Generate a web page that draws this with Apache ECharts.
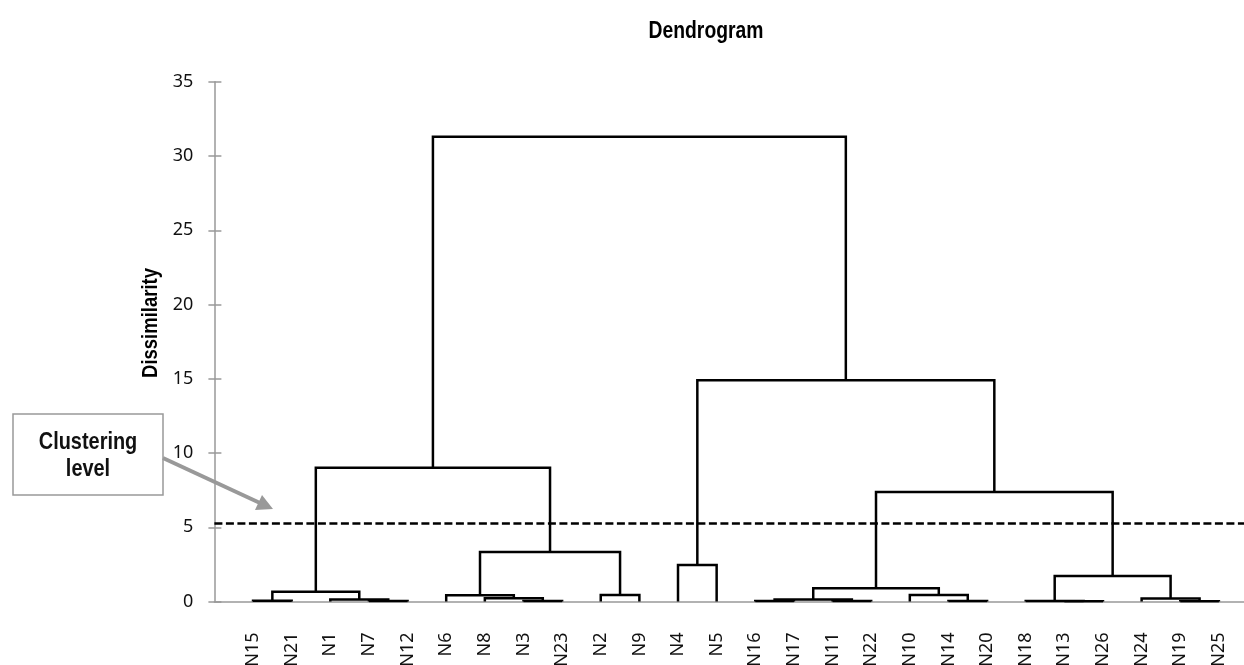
<!DOCTYPE html>
<html>
<head>
<meta charset="utf-8">
<script src="https://cdn.jsdelivr.net/npm/echarts@6/dist/echarts.min.js"></script>
<style>html,body{margin:0;padding:0;background:#fff;}#chart{width:1244px;height:665px;}</style>
</head>
<body>
<div id="chart"></div>
<script>
// Leaves in dendrogram order
var leaves = ['N15','N21','N1','N7','N12','N6','N8','N3','N23','N2','N9','N4','N5','N16','N17','N11','N22','N10','N14','N20','N18','N13','N26','N24','N19','N25'];
// Merges (ids 0..25 = leaves, 26+ = clusters in creation order)
var mergeLeft   = [21, 24, 20,  3,  7, 13, 15, 18,  0,  2, 31, 23,  6,  5,  9, 17, 34, 36, 28, 11, 39, 43, 42, 45, 48];
var mergeRight  = [22, 25, 26,  4,  8, 14, 16, 19,  1, 29, 32, 27, 30, 38, 10, 33, 35, 41, 37, 12, 40, 44, 46, 47, 49];
var mergeHeight = [0.02,0.02,0.04,0.03,0.04,0.03,0.03,0.03,0.05,0.14,0.13,0.20,0.22,0.42,0.44,0.44,0.66,0.89,1.72,2.46,3.33,7.37,9.0,14.9,31.3];
var yTicks = {min: 0, max: 35, interval: 5};
var clusteringLevel = 5.3;

// Build dendrogram link polylines from the merges
var nodeX = [], nodeY = [];
for (var i = 0; i < leaves.length; i++) { nodeX.push(i + 1); nodeY.push(0); }
var links = [];
for (var k = 0; k < mergeLeft.length; k++) {
  var a = mergeLeft[k], b = mergeRight[k], h = mergeHeight[k];
  links.push({coords: [[nodeX[a], nodeY[a]], [nodeX[a], h], [nodeX[b], h], [nodeX[b], nodeY[b]]]});
  nodeX.push((nodeX[a] + nodeX[b]) / 2);
  nodeY.push(h);
}

var chart = echarts.init(document.getElementById('chart'), null, {renderer: 'canvas'});
var labelFont = 'Noto Sans';
var option = {
  animation: false,
  grid: {left: 214.4, right: 0, top: 81.75, bottom: 63.5, containLabel: false, outerBoundsMode: 'none'},
  xAxis: {
    type: 'value', min: 0, max: 26.65, interval: 1,
    axisLine: {show: true, lineStyle: {color: '#999', width: 1.5}},
    axisTick: {show: false}, splitLine: {show: false},
    axisLabel: {
      rotate: 90, margin: 31, fontFamily: labelFont, fontSize: 18, color: '#111',
      showMinLabel: false, showMaxLabel: false, hideOverlap: false,
      formatter: function (v) { var i = Math.round(v); return (Math.abs(v - i) < 1e-6 && i >= 1 && i <= leaves.length) ? leaves[i - 1] : ''; }
    }
  },
  yAxis: [{
    type: 'value', min: yTicks.min, max: yTicks.max, interval: yTicks.interval,
    axisLine: {show: true, lineStyle: {color: '#999', width: 1.5}},
    axisTick: {show: true, length: 6, lineStyle: {color: '#999', width: 1.5}},
    splitLine: {show: false},
    axisLabel: {margin: 21, fontFamily: labelFont, fontSize: 18, color: '#111'}
  }, {
    type: 'value', min: yTicks.min, max: yTicks.max, interval: yTicks.interval, position: 'left',
    axisLine: {show: false},
    axisTick: {show: true, inside: true, length: 7, lineStyle: {color: '#999', width: 1.5}},
    axisLabel: {show: false}, splitLine: {show: false}
  }],
  series: [{
    type: 'lines', coordinateSystem: 'cartesian2d', polyline: true,
    data: links,
    lineStyle: {color: '#000', width: 2.5, opacity: 1},
    silent: true, z: 3,
    markLine: {
      silent: true, symbol: 'none', label: {show: false},
      lineStyle: {color: '#000', width: 2.6, type: [8, 3.5]},
      data: [{yAxis: clusteringLevel}]
    }
  }],
  graphic: [
    {type: 'text', x: 706, y: 32, scaleX: 0.84,
     style: {text: 'Dendrogram', font: 'bold 23px "Liberation Sans"', fill: '#000', align: 'center', verticalAlign: 'middle'}},
    {type: 'text', x: 151, y: 323, rotation: Math.PI / 2, scaleX: 0.84,
     style: {text: 'Dissimilarity', font: 'bold 22px "Liberation Sans"', fill: '#000', align: 'center', verticalAlign: 'middle'}},
    {type: 'rect', shape: {x: 13, y: 414, width: 150, height: 81}, style: {fill: '#fff', stroke: '#999', lineWidth: 1.5}},
    {type: 'text', x: 88, y: 442, scaleX: 0.83, style: {text: 'Clustering', font: 'bold 24px "Liberation Sans"', fill: '#111', align: 'center', verticalAlign: 'middle'}},
    {type: 'text', x: 88, y: 469, scaleX: 0.83, style: {text: 'level', font: 'bold 24px "Liberation Sans"', fill: '#111', align: 'center', verticalAlign: 'middle'}},
    {type: 'line', shape: {x1: 163, y1: 458, x2: 260, y2: 503}, style: {stroke: '#999', lineWidth: 4}},
    {type: 'polygon', shape: {points: [[255, 510], [262, 495], [273, 509]]}, style: {fill: '#999'}}
  ]
};
chart.setOption(option);
</script>
</body>
</html>
